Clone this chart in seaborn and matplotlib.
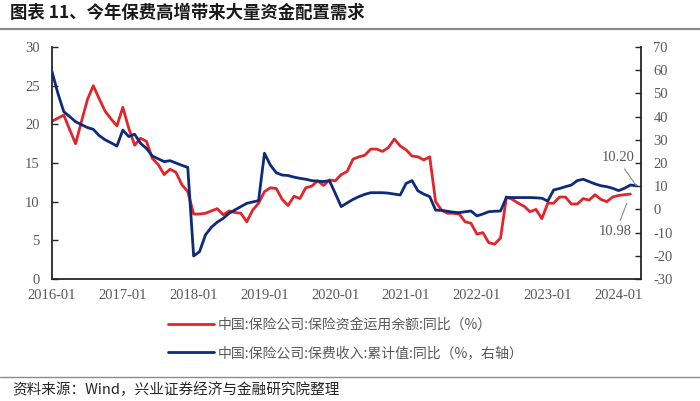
import numpy as np
import pandas as pd
import matplotlib
matplotlib.use("Agg")
import matplotlib.pyplot as plt
from matplotlib.font_manager import FontProperties
import seaborn as sns

# ---------------- data ----------------
# monthly, starting 2016-01
fund_balance_yoy = [  # 中国:保险公司:保险资金运用余额:同比 (%), left axis, 2016-01..2024-03
    20.4, 20.8, 21.2, 19.3, 17.5, 20.4, 23.2, 25.0, 23.3, 21.7, 20.7, 19.8,
    22.2, 19.5, 17.3, 18.2, 17.8, 15.6, 14.8, 13.5, 14.2, 13.8, 12.2, 11.3,
    8.4, 8.4, 8.5, 8.8, 9.1, 8.3, 8.8, 8.6, 8.5, 7.4, 8.9, 9.8,
    11.3, 11.8, 11.7, 10.3, 9.5, 10.7, 10.4, 11.8, 12.0, 12.7, 12.1, 12.8,
    12.7, 13.5, 13.9, 15.5, 15.8, 16.0, 16.8, 16.8, 16.5, 17.0, 18.1, 17.2,
    16.7, 15.9, 15.8, 15.4, 15.8, 10.0, 8.9, 8.5, 8.5, 8.4, 7.4, 7.2,
    5.8, 6.0, 4.7, 4.5, 5.3, 10.6, 10.3, 9.8, 9.4, 8.7, 9.0, 7.8,
    9.8, 9.8, 10.6, 10.6, 9.7, 9.7, 10.4, 10.2, 10.9, 10.3, 10.0, 10.6,
    10.8, 10.9, 10.98,
]
premium_cum_yoy = [  # 中国:保险公司:保费收入:累计值:同比 (%), right axis, 2016-01..2024-04
    59.4, 50.0, 42.1, 40.0, 37.8, 36.5, 35.3, 34.5, 31.8, 30.0, 28.7, 27.3,
    34.2, 31.4, 32.4, 28.5, 26.3, 23.0, 21.8, 20.6, 21.0, 20.0, 19.0, 18.1,
    -20.1, -18.2, -11.0, -7.7, -5.5, -3.9, -1.7, -0.2, 1.2, 2.6, 3.2, 3.8,
    24.2, 19.1, 15.8, 14.8, 14.6, 13.9, 13.4, 13.0, 12.4, 12.2, 12.0, 12.4,
    6.9, 1.2, 2.8, 4.3, 5.5, 6.5, 7.2, 7.2, 7.2, 7.0, 6.6, 6.2,
    11.2, 12.4, 8.0, 6.6, 5.5, -0.3, -0.4, -0.8, -1.2, -1.4, -1.0, -0.7,
    -2.8, -2.0, -1.0, -0.8, -0.7, 5.2, 5.1, 5.1, 5.1, 5.1, 5.0, 4.8,
    3.6, 8.4, 9.0, 9.8, 10.5, 12.4, 13.0, 12.0, 11.0, 10.2, 9.8, 9.1,
    8.1, 9.1, 10.5, 10.20,
]
start_month = "2016-01"
tick_labels = ["2016-01", "2017-01", "2018-01", "2019-01", "2020-01",
               "2021-01", "2022-01", "2023-01", "2024-01"]
label_red = "中国:保险公司:保险资金运用余额:同比（%）"
label_blue = "中国:保险公司:保费收入:累计值:同比（%，右轴）"
title = "图表 11、今年保费高增带来大量资金配置需求"
source = "资料来源：Wind，兴业证券经济与金融研究院整理"

RED = "#E4242A"
BLUE = "#0E2A7A"
GREY_TXT = "#595959"

# ---------------- frame ----------------
periods = pd.period_range(start_month, periods=max(len(fund_balance_yoy), len(premium_cum_yoy)), freq="M")
idx_of = {str(p): i for i, p in enumerate(periods)}
df_red = pd.DataFrame({"m": np.arange(len(fund_balance_yoy)), "v": fund_balance_yoy})
df_blue = pd.DataFrame({"m": np.arange(len(premium_cum_yoy)), "v": premium_cum_yoy})

sns.set_style("white")
plt.rcParams["font.family"] = ["Liberation Serif", "Noto Sans CJK SC"]
plt.rcParams["axes.unicode_minus"] = False
cjk = ["Noto Sans CJK SC", "DejaVu Sans"]

W, H = 700, 401
fig = plt.figure(figsize=(W / 100, H / 100), dpi=100)
L, R, T, B = 52, 641, 47, 279
ax = fig.add_axes([L / W, 1 - B / H, (R - L) / W, (B - T) / H])
ax2 = ax.twinx()

sns.lineplot(data=df_red, x="m", y="v", ax=ax, color=RED, lw=2.0, legend=False)
sns.lineplot(data=df_blue, x="m", y="v", ax=ax2, color=BLUE, lw=2.0, legend=False)

ax.set_xlim(0, 99.8)
ax.set_ylim(0, 30)
ax2.set_ylim(-30, 70)
ax.set_yticks(np.arange(0, 31, 5))
ax2.set_yticks(np.arange(-30, 71, 10))
ax.set_xticks([idx_of[t] for t in tick_labels])
ax.set_xticklabels(tick_labels)
ax.set_xlabel("")
ax.set_ylabel("")
ax2.set_ylabel("")

for a in (ax, ax2):
    a.spines["top"].set_visible(False)
    for s in a.spines.values():
        s.set_color("#262626")
        s.set_linewidth(1.3)
    a.tick_params(direction="in", length=4, width=1.0, color="#262626",
                  labelsize=10.5, labelcolor=GREY_TXT, pad=9)
ax.tick_params(axis="x", pad=7)
ax.spines["right"].set_visible(False)
ax2.spines["left"].set_visible(False)
ax2.spines["bottom"].set_visible(False)
ax.grid(False)
ax2.grid(False)

# data labels
ann_font = dict(fontsize=10.5, color=GREY_TXT, family="Liberation Serif")
ax2.annotate(f"{premium_cum_yoy[-1]:.2f}", xy=(len(premium_cum_yoy) - 1, premium_cum_yoy[-1]),
             xytext=(-13, 20), textcoords="offset points", ha="center", va="center",
             arrowprops=dict(arrowstyle="-", color="#8c8c8c", lw=0.8, shrinkA=1, shrinkB=0,
                             relpos=(0.6, 0.0)), **ann_font)
ax.annotate(f"{fund_balance_yoy[-1]:.2f}", xy=(len(fund_balance_yoy) - 1, fund_balance_yoy[-1]),
            xytext=(-11, -27), textcoords="offset points", ha="center", va="center",
            arrowprops=dict(arrowstyle="-", color="#8c8c8c", lw=0.8, shrinkA=1, shrinkB=7,
                            relpos=(0.6, 1.0)), **ann_font)

# legend
handles = [ax.lines[0], ax2.lines[0]]
fig.legend(handles, [label_red, label_blue], loc="upper left",
           bbox_to_anchor=(168 / W, 1 - 318 / H), frameon=False,
           prop=FontProperties(family=cjk, size=10), labelcolor=GREY_TXT,
           handlelength=3.3, handletextpad=0.3, labelspacing=1.0,
           borderpad=0, borderaxespad=0)

# title, rules, source
fig.text(10 / W, 1 - 13 / H, title, ha="left", va="center", fontsize=12.5,
         fontweight="bold", family=cjk, color="#1a1a1a")
fig.add_artist(plt.Line2D([0, 1], [1 - 29 / H, 1 - 29 / H], color="#8c8c8c", lw=1.6))
fig.add_artist(plt.Line2D([0, 1], [1 - 377 / H, 1 - 377 / H], color="#8c8c8c", lw=1.0))
fig.text(12 / W, 1 - 390 / H, source, ha="left", va="center", fontsize=10.5,
         family=cjk, color="#262626")

fig.savefig("out.png", dpi=100)
